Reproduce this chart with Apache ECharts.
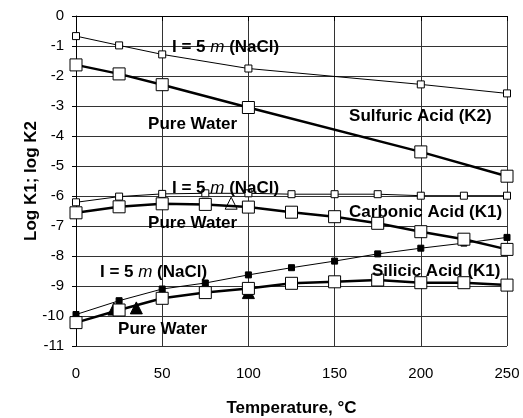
<!DOCTYPE html>
<html>
<head>
<meta charset="utf-8">
<script src="https://cdn.jsdelivr.net/npm/echarts@6/dist/echarts.min.js"></script>
<style>
  html, body { margin: 0; padding: 0; background: #fff; }
  #chart { width: 523px; height: 418px; }
</style>
</head>
<body>
<div id="chart"></div>
<script>
// Temperatures (°C)
const tempsSulfuric = [0, 25, 50, 100, 200, 250];
const tempsFull = [0, 25, 50, 75, 100, 125, 150, 175, 200, 225, 250];

// Sulfuric acid, log K2
const sulfuricNaCl = [-0.67, -0.98, -1.28, -1.75, -2.28, -2.58];
const sulfuricWater = [-1.63, -1.93, -2.29, -3.05, -4.53, -5.34];

// Carbonic acid, log K1
const carbonicNaCl = [-6.21, -6.02, -5.93, -5.91, -5.91, -5.94, -5.94, -5.94, -5.99, -5.99, -5.99];
const carbonicWater = [-6.56, -6.36, -6.26, -6.28, -6.37, -6.54, -6.69, -6.91, -7.19, -7.44, -7.78];
const carbonicMeasured = [[90, -6.24]];

// Silicic acid, log K1
const silicicNaCl = [-9.95, -9.49, -9.10, -8.90, -8.63, -8.39, -8.17, -7.93, -7.74, -7.57, -7.38];
const silicicWater = [-10.22, -9.80, -9.41, -9.22, -9.08, -8.91, -8.86, -8.80, -8.89, -8.89, -8.97];
const silicicMeasured = [[22, -9.77], [35, -9.73], [100, -9.22]];

// Axis ticks
const xTicks = [0, 50, 100, 150, 200, 250];
const yTicks = [0, -1, -2, -3, -4, -5, -6, -7, -8, -9, -10, -11];

// Curve annotations: text and anchor (left edge, vertical middle) in data units
const annotations = [
  { text: 'I = 5 m (NaCl)', x: 55.7, y: -1.03 },
  { text: 'Pure Water', x: 41.8, y: -3.6 },
  { text: 'Sulfuric Acid (K2)', x: 158.4, y: -3.33 },
  { text: 'I = 5 m (NaCl)', x: 55.7, y: -5.73 },
  { text: 'Pure Water', x: 41.8, y: -6.9 },
  { text: 'Carbonic Acid (K1)', x: 158.4, y: -6.53 },
  { text: 'I = 5 m (NaCl)', x: 13.9, y: -8.53 },
  { text: 'Silicic Acid (K1)', x: 171.7, y: -8.5 },
  { text: 'Pure Water', x: 24.4, y: -10.43 }
];

const FONT = 'Arial, "Liberation Sans", sans-serif';

function pairs(xs, ys) { return xs.map((x, i) => [x, ys[i]]); }

function thinSeries(name, data, filled) {
  return {
    name, type: 'line', data, symbol: 'rect', symbolSize: filled ? 6 : 7,
    lineStyle: { color: '#000', width: 1 },
    itemStyle: { color: filled ? '#000' : '#fff', borderColor: '#000', borderWidth: 1, opacity: 1 },
    emphasis: { disabled: true }, animation: false
  };
}
function thickSeries(name, data) {
  return {
    name, type: 'line', data, symbol: 'rect', symbolSize: 12,
    lineStyle: { color: '#000', width: 2.5 },
    itemStyle: { color: '#fff', borderColor: '#000', borderWidth: 1, opacity: 1 },
    emphasis: { disabled: true }, animation: false
  };
}
function measuredSeries(name, data, filled) {
  return {
    name, type: 'scatter', data, symbol: 'triangle', symbolSize: 12,
    itemStyle: { color: filled ? '#000' : '#fff', borderColor: '#000', borderWidth: 1, opacity: 1 },
    emphasis: { disabled: true }, animation: false
  };
}

const chart = echarts.init(document.getElementById('chart'), null, { renderer: 'canvas' });

chart.setOption({
  backgroundColor: '#fff',
  animation: false,
  grid: { left: 76, right: 16, top: 16, bottom: 72, containLabel: false, outerBoundsMode: 'none' },
  xAxis: {
    type: 'value', min: xTicks[0], max: xTicks[xTicks.length - 1], interval: 50,
    name: 'Temperature, °C', nameLocation: 'middle', nameGap: 54,
    nameTextStyle: { fontFamily: FONT, fontWeight: 'bold', fontSize: 17, color: '#000' },
    axisLine: { lineStyle: { color: '#000', width: 1 } },
    axisTick: { show: true, inside: false, length: 5, lineStyle: { color: '#000' } },
    axisLabel: { fontFamily: FONT, fontSize: 15, color: '#000', margin: 20 },
    splitLine: { show: true, lineStyle: { color: '#333', width: 1 } }
  },
  yAxis: {
    type: 'value', min: yTicks[yTicks.length - 1], max: yTicks[0], interval: 1,
    name: 'Log K1; log K2', nameLocation: 'middle', nameGap: 36, nameRotate: 90,
    nameMoveOverlap: false,
    nameTextStyle: { fontFamily: FONT, fontWeight: 'bold', fontSize: 17, color: '#000' },
    axisLine: { show: true, lineStyle: { color: '#000', width: 1 } },
    axisTick: { show: true, inside: false, length: 4, lineStyle: { color: '#000' } },
    axisLabel: { fontFamily: FONT, fontSize: 15, color: '#000', margin: 12 },
    splitLine: { show: true, lineStyle: { color: '#333', width: 1 } }
  },
  series: [
    measuredSeries('Silicic measured', silicicMeasured, true),
    measuredSeries('Carbonic measured', carbonicMeasured, false),
    thinSeries('Sulfuric 5m', pairs(tempsSulfuric, sulfuricNaCl), false),
    thinSeries('Carbonic 5m', pairs(tempsFull, carbonicNaCl), false),
    thinSeries('Silicic 5m', pairs(tempsFull, silicicNaCl), true),
    thickSeries('Sulfuric water', pairs(tempsSulfuric, sulfuricWater)),
    thickSeries('Carbonic water', pairs(tempsFull, carbonicWater)),
    thickSeries('Silicic water', pairs(tempsFull, silicicWater))
  ]
});

// Curve labels, placed through the grid's coordinate system
const baseFont = { fontFamily: FONT, fontWeight: 'bold', fontSize: 17 };
chart.setOption({
  graphic: annotations.map(a => {
    const p = chart.convertToPixel({ gridIndex: 0 }, [a.x, a.y]);
    const rich = a.text.indexOf(' m ') >= 0;
    const text = rich ? a.text.replace(' m ', ' {i|m} ') : a.text;
    return {
      type: 'text', x: p[0], y: p[1], z: 100, silent: true,
      style: Object.assign({
        text: text, fill: '#000', align: 'left', verticalAlign: 'middle',
        rich: { i: Object.assign({}, baseFont, { fontStyle: 'italic', fontWeight: 'normal' }) }
      }, baseFont)
    };
  })
});
</script>
</body>
</html>
